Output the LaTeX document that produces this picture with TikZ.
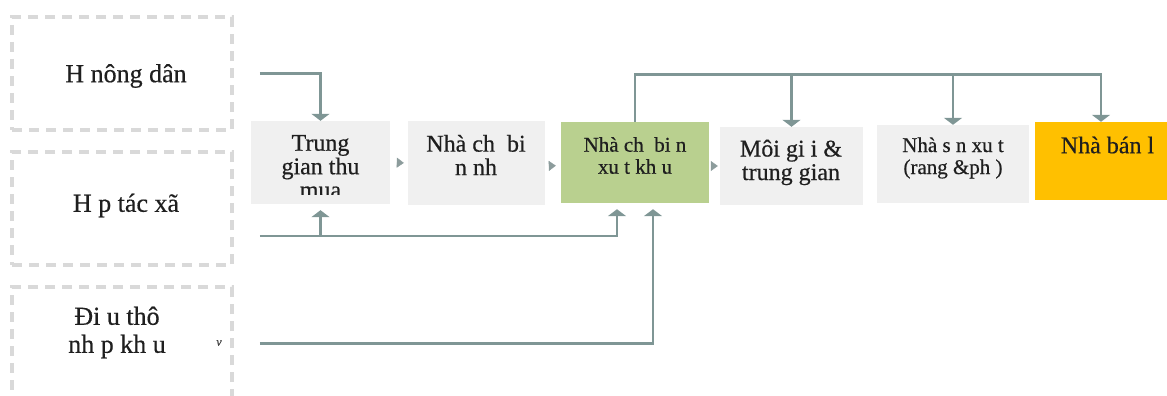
\documentclass[tikz,border=0pt]{standalone}
\usepackage{fontspec}
\setmainfont{Liberation Serif}[FakeBold=0.5]
\usetikzlibrary{arrows.meta}

\definecolor{lineteal}{HTML}{7F9695}
\definecolor{boxgray}{HTML}{F0F0F0}
\definecolor{dashgray}{HTML}{D9D9D9}
\definecolor{boxgreen}{HTML}{B9D08F}
\definecolor{boxyellow}{HTML}{FFC000}
\definecolor{tipgray}{HTML}{8C9C9C}

\tikzset{
  srcbox/.style={draw=dashgray, line width=3.5pt, dash pattern=on 10pt off 7pt,
    minimum width=220pt, minimum height=113pt, inner sep=0pt},
  midbox/.style={fill=boxgray, inner sep=0pt},
  bigtxt/.style={align=center, inner sep=0pt, text=black!88, font=\fontsize{26}{28}\selectfont},
  midtxt/.style={align=center, inner sep=0pt, text=black!88, font=\fontsize{24}{23.5}\selectfont},
  smalltxt/.style={align=center, inner sep=0pt, text=black!88, font=\fontsize{21}{22}\selectfont},
  conn/.style={draw=lineteal, line width=2.6pt, -{Triangle[width=18pt,length=7pt]}},
  gaptip/.style={draw=tipgray, line width=0.4pt, -{Triangle[width=10pt,length=7pt]}}
}

\begin{document}
\begin{tikzpicture}[x=1pt,y=-1pt]
            \useasboundingbox (0,0) rectangle (1167,396);

            % sources
            \node[srcbox] (hnd) at (122,73.5) {};
            \node[srcbox] (htx) at (122,208.5) {};
            \node[srcbox] (dtn) at (122,343.5) {};
            \node[bigtxt] (hndT) at (126,76) {H nông dân};
            \node[bigtxt] (htxT) at (126,205.5) {H p tác xã};
            \node[bigtxt] (dtnT) at (117,332.5) {Đi u thô\\nh p kh u};
            \node[font=\itshape\fontsize{12}{12}\selectfont, text=black!75, inner sep=0pt] (vmark) at (219,343) {v};

            % chain
            \node[midbox, minimum width=139pt, minimum height=83pt] (tg) at (320.5,162.5) {};
            \node[midbox, minimum width=137pt, minimum height=84pt] (cb) at (476.5,163) {};
            \node[midbox, fill=boxgreen, minimum width=148pt, minimum height=81pt] (xk) at (635,162.5) {};
            \node[midbox, minimum width=143pt, minimum height=78pt] (mg) at (791.5,166) {};
            \node[midbox, minimum width=152pt, minimum height=78pt] (sx) at (953,164) {};
            \node[midbox, fill=boxyellow, minimum width=132pt, minimum height=78pt] (bl) at (1101,161) {};

            \begin{scope}
              \clip (251,121) rectangle (390,194);
              \node[midtxt] (tgT) at (320.5,166.5) {Trung\\gian thu\\mua};
            \end{scope}
            \node[midtxt] (cbT) at (476,155) {Nhà ch\ \ bi\\n nh};
            \node[smalltxt] (xkT) at (635,155.5) {Nhà ch\ \ bi n\\xu t kh u};
            \node[midtxt] (mgT) at (791,162.5) {Môi gi i \&\\trung gian};
            \node[smalltxt] (sxT) at (953,158) {Nhà s n xu t\\(rang \&ph )};
            \node[midtxt] (blT) at (1107.5,145) {Nhà bán l};

            % small tips between the boxes
            \draw[gaptip, shorten <=7pt, shorten >=4pt] (tg.east) -- (cb.west);
            \draw[gaptip, shorten <=4pt, shorten >=5pt] ([yshift=-3pt]cb.east) -- ([yshift=-3pt]xk.west);
            \draw[gaptip, shorten <=2pt, shorten >=2pt] ([yshift=-3.5pt]xk.east) -- ([yshift=-3.5pt]xk.east -| mg.west);

            % feeds from the sources
            \coordinate (htxout) at ([yshift=-27.5pt]htx.east);
            \draw[conn, shorten <=26pt] (hnd.east) -| (tg.north);
            \draw[conn, shorten <=26pt, shorten >=6pt] (htxout) -| ([xshift=-18pt]xk.south);
            \draw[conn, shorten >=6pt] (htxout -| tg.south) -- (tg.south);
            \draw[conn, shorten <=26pt, shorten >=6pt] (dtn.east) -| ([xshift=18pt]xk.south);

            % from export processors onwards
            \coordinate (topjoin) at ([yshift=47pt]xk.north);
            \draw[conn] (xk.north) -- (topjoin) -| (bl.north);
            \draw[conn] (topjoin -| mg.north) -- (mg.north);
            \draw[conn] (topjoin -| sx.north) -- (sx.north);

        \end{tikzpicture}
\end{document}
